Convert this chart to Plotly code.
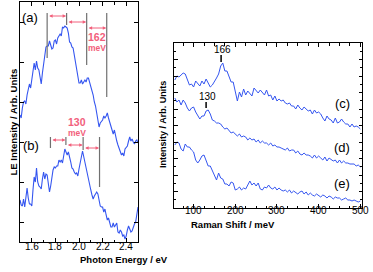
import numpy as np
import plotly.graph_objects as go

# ---------------- data ----------------
# Left panel: photon energy grid (eV) and LE intensities (arb. units)
photon_energy = np.round(np.linspace(1.5, 2.5, 101), 3)
le_a = [127, 124, 134, 140, 141, 138, 147, 153, 158, 154, 163, 171, 179, 172, 181, 174, 172, 165, 158, 169,
        179, 188, 195, 196, 196, 201, 196, 193, 194, 201, 202, 198, 204, 207, 208, 206, 215, 214, 216, 215,
        214, 209, 200, 199, 195, 194, 187, 183, 176, 166, 159, 159, 162, 158, 160, 162, 160, 164, 164, 160,
        156, 153, 147, 140, 136, 129, 121, 115, 119, 121, 122, 126, 124, 126, 129, 124, 120, 116, 113, 108,
        112, 105, 101, 97, 93, 89, 87, 89, 86, 93, 95, 96, 101, 105, 101, 103, 100, 98, 101, 102, 99]
le_b = [42, 37, 36, 43, 35, 44, 54, 44, 38, 38, 36, 52, 65, 60, 74, 60, 56, 55, 53, 63,
        70, 63, 68, 67, 58, 50, 56, 67, 72, 75, 74, 76, 76, 82, 80, 82, 79, 86, 93, 90,
        87, 90, 83, 80, 74, 73, 70, 68, 69, 66, 73, 81, 85, 91, 85, 80, 73, 68, 63, 57,
        52, 47, 43, 46, 49, 50, 48, 41, 36, 35, 35, 30, 33, 27, 22, 24, 18, 15, 15, 19,
        15, 17, 19, 10, 9, 12, 10, 6, 7, 3, 6, 12, 16, 13, 10, 11, 15, 18, 20, 29, 35]

# vibronic progression markers (eV)
prog_a = [1.73, 1.895, 2.065, 2.235]
prog_a_bottom = [184, 217, 177, 145]
prog_b = [1.758, 1.889, 2.035, 2.174]
prog_b_bottom = [94, 97, 92, 55]

# Right panel: Raman shift grid (meV) and intensities
raman_shift = np.linspace(55, 500, 90)
raman_c = [128, 132, 131, 133, 135, 134, 129, 123, 124, 121, 127, 125, 122, 127, 124, 129, 125, 121, 123, 126,
           130, 134, 142, 145, 137, 137, 131, 126, 126, 115, 107, 116, 111, 119, 113, 117, 114, 112, 120, 117,
           115, 118, 115, 113, 118, 112, 113, 108, 112, 107, 109, 107, 108, 105, 104, 105, 102, 102, 99, 103,
           100, 98, 101, 99, 97, 98, 94, 98, 95, 96, 94, 90, 87, 92, 89, 88, 85, 90, 85, 86,
           89, 86, 84, 84, 81, 84, 81, 82, 81, 79]
raman_d = [110, 106, 108, 103, 108, 105, 100, 97, 100, 101, 96, 93, 89, 92, 92, 97, 98, 94, 88, 87,
           85, 85, 84, 81, 79, 80, 78, 75, 76, 74, 72, 74, 71, 72, 71, 68, 70, 68, 69, 66,
           68, 65, 67, 65, 65, 63, 65, 62, 63, 61, 61, 60, 59, 58, 60, 57, 58, 58, 55, 57,
           54, 53, 55, 53, 53, 52, 50, 53, 50, 52, 50, 48, 51, 47, 50, 48, 47, 48, 45, 48,
           45, 47, 45, 45, 44, 44, 44, 42, 43, 41]
raman_e = [63, 66, 65, 59, 57, 64, 61, 61, 58, 56, 48, 45, 48, 52, 53, 47, 42, 42, 37, 32,
           28, 35, 30, 29, 24, 24, 22, 26, 25, 18, 19, 21, 18, 20, 19, 23, 27, 23, 25, 22,
           25, 19, 18, 21, 20, 23, 20, 19, 21, 18, 20, 18, 17, 18, 16, 18, 15, 17, 15, 14,
           16, 17, 14, 16, 13, 15, 13, 12, 14, 12, 11, 13, 12, 10, 12, 11, 9, 11, 10, 10,
           8, 9, 10, 8, 8, 7, 8, 7, 6, 7]

left_xticks = [1.6, 1.8, 2.0, 2.2, 2.4]
left_xlabels = ["1.6", "1.8", "2.0", "2.2", "2.4"]
right_xticks = [100, 200, 300, 400, 500]
right_xlabels = ["100", "200", "300", "400", "500"]

# ---------------- figure ----------------
W, H = 373, 272
BLUE = "#3556f0"
PINK = "#f2607c"
GRAY = "#707070"
FONT = "Liberation Sans, Arial, sans-serif"


def py(pix):
    """pixel row from top -> paper fraction"""
    return (H - pix) / H


fig = go.Figure()
fig.add_trace(go.Scatter(x=photon_energy, y=le_a, mode="lines", line=dict(color=BLUE, width=1.1),
                         xaxis="x", yaxis="y", showlegend=False))
fig.add_trace(go.Scatter(x=photon_energy, y=le_b, mode="lines", line=dict(color=BLUE, width=1.1),
                         xaxis="x", yaxis="y", showlegend=False))
for ys in (raman_c, raman_d, raman_e):
    fig.add_trace(go.Scatter(x=raman_shift, y=ys, mode="lines", line=dict(color=BLUE, width=1),
                             xaxis="x2", yaxis="y2", showlegend=False))

shapes = []
annotations = []

# progression lines & arrows (a)
for xv, yb in zip(prog_a, prog_a_bottom):
    shapes.append(dict(type="line", xref="x", yref="y", x0=xv, x1=xv, y0=229, y1=yb,
                       line=dict(color=GRAY, width=1.2)))
for i, ya in enumerate([226, 220, 214]):
    annotations.append(dict(xref="x", yref="y", axref="x", ayref="y", x=prog_a[i + 1] - 0.004, y=ya,
                            ax=prog_a[i] + 0.004, ay=ya, text="", showarrow=True, arrowhead=2,
                            startarrowhead=2, arrowside="end+start", arrowsize=0.7, startarrowsize=0.7,
                            arrowwidth=1, arrowcolor=PINK))
annotations.append(dict(xref="x", yref="y", x=2.152, y=205, text="<b>162</b>", showarrow=False,
                        font=dict(family=FONT, size=10.5, color=PINK)))
annotations.append(dict(xref="x", yref="y", x=2.152, y=194, text="<b>meV</b>", showarrow=False,
                        font=dict(family=FONT, size=8.5, color=PINK)))

# progression lines & arrows (b)
for xv, yb in zip(prog_b, prog_b_bottom):
    shapes.append(dict(type="line", xref="x", yref="y", x0=xv, x1=xv, y0=105, y1=yb,
                       line=dict(color=GRAY, width=1.2)))
for i, ya in enumerate([102, 97, 94]):
    annotations.append(dict(xref="x", yref="y", axref="x", ayref="y", x=prog_b[i + 1] - 0.004, y=ya,
                            ax=prog_b[i] + 0.004, ay=ya, text="", showarrow=True, arrowhead=2,
                            startarrowhead=2, arrowside="end+start", arrowsize=0.7, startarrowsize=0.7,
                            arrowwidth=1, arrowcolor=PINK))
annotations.append(dict(xref="x", yref="y", x=1.987, y=120, text="<b>130</b>", showarrow=False,
                        font=dict(family=FONT, size=10.5, color=PINK)))
annotations.append(dict(xref="x", yref="y", x=1.987, y=109, text="<b>meV</b>", showarrow=False,
                        font=dict(family=FONT, size=8.5, color=PINK)))

# panel labels
annotations.append(dict(xref="x", yref="y", x=1.585, y=224, text="(a)", showarrow=False,
                        font=dict(family=FONT, size=13, color="black")))
annotations.append(dict(xref="x", yref="y", x=1.59, y=97, text="(b)", showarrow=False,
                        font=dict(family=FONT, size=13, color="black")))
for lab, yv in (("(c)", 105), ("(d)", 61), ("(e)", 25)):
    annotations.append(dict(xref="x2", yref="y2", x=457, y=yv, text=lab, showarrow=False,
                            font=dict(family=FONT, size=13, color="black")))

# Raman peak markers
shapes.append(dict(type="line", xref="x2", yref="y2", x0=166, x1=166, y0=146, y1=153,
                   line=dict(color="black", width=1.5)))
annotations.append(dict(xref="x2", yref="y2", x=170, y=159, text="166", showarrow=False,
                        font=dict(family=FONT, size=10, color="black")))
shapes.append(dict(type="line", xref="x2", yref="y2", x0=130, x1=130, y0=100, y1=106,
                   line=dict(color="black", width=1.5)))
annotations.append(dict(xref="x2", yref="y2", x=134, y=112, text="130", showarrow=False,
                        font=dict(family=FONT, size=10, color="black")))

# tick labels placed along the axes' own x scales
for v, t in zip(left_xticks, left_xlabels):
    annotations.append(dict(xref="x", yref="paper", x=v, y=py(253), text=t, showarrow=False,
                            borderpad=0, font=dict(family=FONT, size=10, color="black")))
for v, t in zip(right_xticks, right_xlabels):
    annotations.append(dict(xref="x2", yref="paper", x=v, y=py(216.5), text=t, showarrow=False,
                            borderpad=0, font=dict(family=FONT, size=10, color="black")))

# axis titles
annotations.append(dict(xref="paper", yref="paper", x=7 / W, y=py(122),
                        text="<b>LE Intensity / Arb. Units</b>", textangle=-90, showarrow=False,
                        borderpad=0, font=dict(family=FONT, size=9.5, color="black")))
annotations.append(dict(xref="paper", yref="paper", x=79 / W, y=py(265.5),
                        text="<b>Photon Energy / eV</b>", showarrow=False,
                        borderpad=0, font=dict(family=FONT, size=9.5, color="black")))
annotations.append(dict(xref="paper", yref="paper", x=163 / W, y=py(125),
                        text="<b>Intensity / Arb. Units</b>", textangle=-90, showarrow=False,
                        borderpad=0, font=dict(family=FONT, size=9, color="black")))
annotations.append(dict(xref="paper", yref="paper", x=276 / W, y=py(230.5),
                        text="<b>Raman Shift / meV</b>", showarrow=False,
                        borderpad=0, font=dict(family=FONT, size=9.5, color="black")))

axis_common = dict(showgrid=False, zeroline=False, showline=True, linecolor="black", linewidth=1,
                   mirror="ticks", ticks="inside", tickcolor="black", automargin=False,
                   showticklabels=False)

fig.update_layout(
    width=W, height=H, margin=dict(l=0, r=0, t=0, b=0, autoexpand=False),
    paper_bgcolor="white", plot_bgcolor="white",
    xaxis=dict(domain=[20 / W, 138 / W], range=[1.5, 2.5], tickvals=left_xticks, ticklen=4,
               minor=dict(dtick=0.1, tick0=1.5, ticks="inside", ticklen=2.5, tickcolor="black"),
               anchor="y", **axis_common),
    yaxis=dict(domain=[py(242), py(2)], range=[0, 240], tick0=20, dtick=40,
               ticklen=4, anchor="x", **axis_common),
    xaxis2=dict(domain=[174 / W, 362 / W], range=[53, 504], tickvals=right_xticks, ticklen=4,
                minor=dict(dtick=25, tick0=50, ticks="inside", ticklen=2.5, tickcolor="black"),
                anchor="y2", **axis_common),
    yaxis2=dict(domain=[py(208), py(43)], range=[0, 165], tick0=0, dtick=16.5,
                ticklen=3.5,
                minor=dict(dtick=8.25, tick0=0, ticks="inside", ticklen=2, tickcolor="black"),
                anchor="x2", **axis_common),
    shapes=shapes, annotations=annotations,
)

fig.write_html("out.html", config={"displayModeBar": False},
               post_script="document.body.style.margin='0';document.body.style.padding='0';")
